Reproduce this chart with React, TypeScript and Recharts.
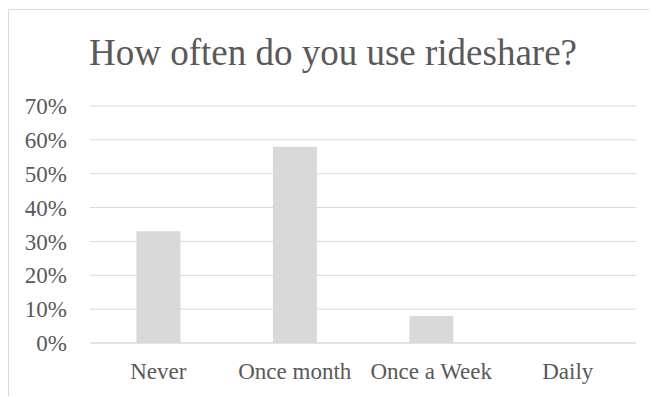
import { BarChart, Bar, XAxis, YAxis, CartesianGrid } from "recharts";

const categories = ["Never", "Once month", "Once a Week", "Daily"];
const shares = [0.33, 0.58, 0.08, 0];
const yTicks = [0, 0.1, 0.2, 0.3, 0.4, 0.5, 0.6, 0.7];

const data = categories.map((name, i) => ({ name, share: shares[i] }));

const textColor = "#595959";
const font = "'Liberation Serif', 'Times New Roman', serif";

export default function App() {
  return (
    <div
      style={{
        position: "relative",
        top: 1,
        width: 649,
        height: 388,
        boxSizing: "border-box",
        borderTop: "1px solid #d9d9d9",
        borderLeft: "1px solid #d9d9d9",
        overflow: "hidden",
        background: "#fff",
      }}
    >
      <div
        style={{
          position: "absolute",
          top: 24,
          left: 0,
          width: 648,
          textAlign: "center",
          fontFamily: font,
          fontSize: 37,
          lineHeight: 1,
          color: textColor,
          whiteSpace: "nowrap",
        }}
      >
        How often do you use rideshare?
      </div>
      <BarChart
        width={648}
        height={387}
        data={data}
        margin={{ top: 96, right: 21, bottom: 9, left: 11 }}
        barCategoryGap="34%"
      >
        <CartesianGrid vertical={false} stroke="#d9d9d9" />
        <XAxis
          dataKey="name"
          interval={0}
          height={45}
          axisLine={{ stroke: "#d9d9d9" }}
          tickLine={false}
          tickSize={0}
          tickMargin={20}
          tick={{ fill: textColor, fontSize: 23, fontFamily: font }}
        />
        <YAxis
          width={70}
          domain={[0, 0.7]}
          ticks={yTicks}
          tickFormatter={(v: number) => `${Math.round(v * 100)}%`}
          axisLine={false}
          tickLine={false}
          tickSize={0}
          tickMargin={23}
          tick={{ fill: textColor, fontSize: 23, fontFamily: font }}
        />
        <Bar dataKey="share" fill="#d9d9d9" isAnimationActive={false} />
      </BarChart>
    </div>
  );
}
